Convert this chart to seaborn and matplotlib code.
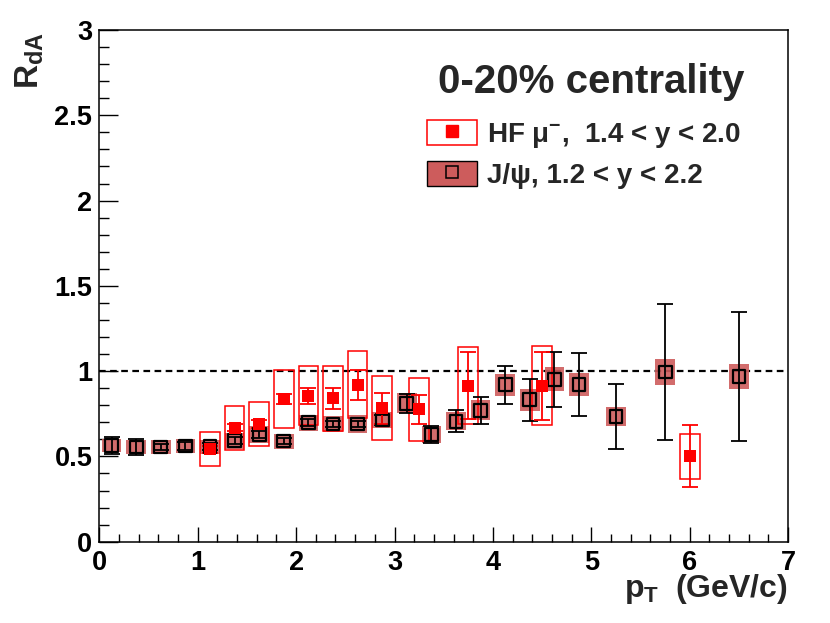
import matplotlib
matplotlib.use('Agg')
import matplotlib.pyplot as plt
import seaborn as sns
import pandas as pd
import numpy as np
from matplotlib.patches import Rectangle
from matplotlib.lines import Line2D
from matplotlib.ticker import MultipleLocator, FormatStrFormatter

sns.set_theme(style='ticks')
plt.rcParams['font.family'] = ['Liberation Sans', 'DejaVu Sans']
plt.rcParams['font.weight'] = 'bold'
plt.rcParams['mathtext.fontset'] = 'custom'
plt.rcParams['mathtext.rm'] = 'Liberation Sans:bold'
plt.rcParams['mathtext.it'] = 'Liberation Sans:bold'
plt.rcParams['mathtext.bf'] = 'Liberation Sans:bold'
plt.rcParams['mathtext.default'] = 'rm'

# J/psi, 1.2 < y < 2.2
jpsi_pt = [0.125, 0.375, 0.625, 0.875, 1.125, 1.375, 1.625, 1.875, 2.125, 2.375, 2.625, 2.875,
           3.125, 3.375, 3.625, 3.875, 4.125, 4.375, 4.625, 4.875, 5.25, 5.75, 6.5]
jpsi_r = [0.563, 0.555, 0.555, 0.561, 0.557, 0.592, 0.627, 0.590, 0.698, 0.690, 0.690, 0.713,
          0.811, 0.630, 0.707, 0.770, 0.920, 0.832, 0.952, 0.920, 0.733, 0.995, 0.969]
jpsi_stat = [0.051, 0.046, 0.02, 0.025, 0.02, 0.02, 0.02, 0.02, 0.02, 0.02, 0.02, 0.03,
             0.054, 0.05, 0.063, 0.081, 0.11, 0.124, 0.163, 0.184, 0.19, 0.40, 0.38]
jpsi_sys = [0.039, 0.041, 0.04, 0.04, 0.04, 0.046, 0.05, 0.044, 0.047, 0.045, 0.051, 0.049,
            0.059, 0.049, 0.053, 0.059, 0.066, 0.063, 0.07, 0.068, 0.055, 0.075, 0.073]

# HF muons, 1.4 < y < 2.0
hf_pt = [1.125, 1.375, 1.625, 1.875, 2.125, 2.375, 2.625, 2.875, 3.25, 3.75, 4.5, 6.0]
hf_r = [0.541, 0.668, 0.690, 0.836, 0.856, 0.840, 0.920, 0.782, 0.776, 0.915, 0.915, 0.502]
hf_stat = [0.02, 0.02, 0.025, 0.03, 0.048, 0.063, 0.088, 0.092, 0.086, 0.195, 0.2, 0.18]
hf_sys = [0.10, 0.13, 0.13, 0.168, 0.173, 0.19, 0.196, 0.188, 0.183, 0.226, 0.232, 0.132]

box_w = 0.2
jpsi_col = '#cd5c5c'
hf_col = '#ff0000'

jpsi = pd.DataFrame({'pt': jpsi_pt, 'r': jpsi_r, 'stat': jpsi_stat, 'sys': jpsi_sys})
hf = pd.DataFrame({'pt': hf_pt, 'r': hf_r, 'stat': hf_stat, 'sys': hf_sys})

fig = plt.figure(figsize=(8.3, 6.23), dpi=100)
ax = fig.add_axes([0.1196, 0.1305, 0.830, 0.8213])

# systematic boxes
ax.bar(jpsi['pt'], 2 * jpsi['sys'], bottom=jpsi['r'] - jpsi['sys'], width=box_w,
       color=jpsi_col, alpha=0.9, linewidth=0, zorder=2)
ax.bar(hf['pt'], 2 * hf['sys'], bottom=hf['r'] - hf['sys'], width=box_w,
       fill=False, edgecolor=hf_col, linewidth=1.1, zorder=3)

# statistical errors
ax.errorbar(jpsi['pt'], jpsi['r'], yerr=jpsi['stat'], fmt='none', ecolor='black',
            elinewidth=1.3, capsize=5.5, capthick=1.3, zorder=4)
ax.errorbar(hf['pt'], hf['r'], yerr=hf['stat'], fmt='none', ecolor=hf_col,
            elinewidth=1.3, capsize=5.5, capthick=1.3, zorder=4)

# markers
sns.scatterplot(data=jpsi, x='pt', y='r', marker='s', s=85, facecolor='none',
                edgecolor='black', linewidth=1.6, ax=ax, zorder=5)
sns.scatterplot(data=hf, x='pt', y='r', marker='s', s=76, color=hf_col,
                edgecolor=hf_col, linewidth=0, ax=ax, zorder=6)

ax.axhline(1.0, color='black', linestyle=(0, (3, 2)), linewidth=1.6, zorder=1)

ax.set_xlim(0, 7)
ax.set_ylim(0, 3)
ax.set_xlabel('')
ax.set_ylabel('')
ax.xaxis.set_major_locator(MultipleLocator(1))
ax.xaxis.set_minor_locator(MultipleLocator(0.2))
ax.yaxis.set_major_locator(MultipleLocator(0.5))
ax.yaxis.set_minor_locator(MultipleLocator(0.1))
ax.yaxis.set_major_formatter(FormatStrFormatter('%g'))
ax.tick_params(axis='both', which='both', direction='in', top=False, right=False,
               colors='black', labelsize=19.5, width=1.0)
ax.tick_params(axis='x', which='major', length=11, pad=6)
ax.tick_params(axis='x', which='minor', length=5.5)
ax.tick_params(axis='y', which='major', length=13.5, pad=5)
ax.tick_params(axis='y', which='minor', length=7)
for lab in ax.get_xticklabels() + ax.get_yticklabels():
    lab.set_fontweight('bold')
for sp in ax.spines.values():
    sp.set_visible(True)
    sp.set_color('black')
    sp.set_linewidth(1.1)

fig.text(788 / 830, 1 - 597 / 623, r'p$_{T}$$\;$ (GeV/c)', ha='right', va='baseline',
         fontsize=23, fontweight='bold')
fig.text(39 / 830, 1 - 32 / 623, r'R$_{dA}$', rotation=90, rotation_mode='anchor',
         ha='right', va='baseline', fontsize=24, fontweight='bold')
fig.text(591 / 830, 1 - 93 / 623, '0-20% centrality', ha='center', va='baseline',
         fontsize=29, fontweight='bold')

h_hf = (Rectangle((0, 0), 1, 1, facecolor='white', edgecolor=hf_col, linewidth=1.1),
        Line2D([], [], marker='s', markersize=8, color=hf_col, linestyle='none'))
h_jpsi = (Rectangle((0, 0), 1, 1, facecolor=jpsi_col, edgecolor='black', linewidth=1.0),
          Line2D([], [], marker='s', markersize=8, markerfacecolor='none',
                 markeredgecolor='black', markeredgewidth=1.1, linestyle='none'))
leg = fig.legend([h_hf, h_jpsi], [r'HF μ$^{-}$,  1.4 < y < 2.0', 'J/ψ, 1.2 < y < 2.2'],
                 loc='upper left', bbox_to_anchor=(427 / 830, 1 - 120 / 623),
                 bbox_transform=fig.transFigure, frameon=False,
                 borderpad=0, borderaxespad=0, handlelength=1.8, handleheight=1.0,
                 handletextpad=0.35, labelspacing=0.4,
                 prop={'weight': 'bold', 'size': 20})

fig.savefig('out.png', dpi=100)
